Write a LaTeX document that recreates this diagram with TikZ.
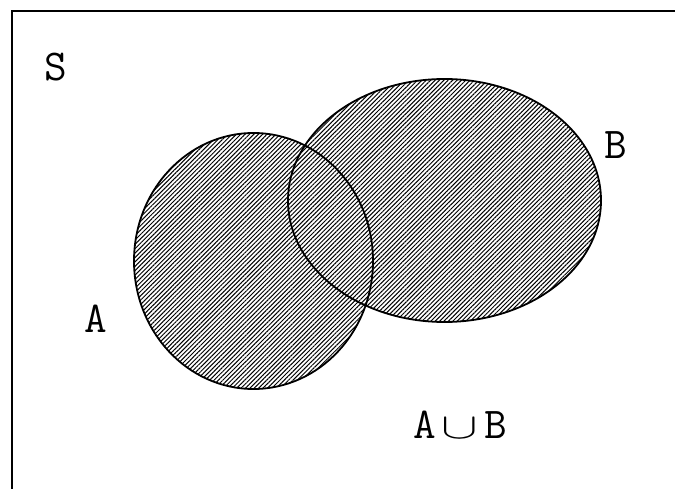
\documentclass[tikz,border=0pt]{standalone}
\usepackage{fontspec}
\usetikzlibrary{patterns.meta}
\tikzset{
  hatch/.style={pattern={Lines[angle=45,distance=3.1pt,line width=1.0pt]}},
  outline/.style={line width=1.8pt},
  lbl/.style={inner sep=0pt,font=\ttfamily\fontsize{44}{46}\selectfont}
}
\begin{document}
\begin{tikzpicture}[x=1pt,y=-1pt]
\useasboundingbox (0,0) rectangle (675,489);
% frame (right and bottom cut off)
\draw[line width=2pt] (676,11) -- (12,11) -- (12,490);
% union fill, hatched once
\fill[hatch] (253.5,261) ellipse [x radius=119.5,y radius=128]
             (444.5,200.5) ellipse [x radius=156.5,y radius=121.5];
% outlines
\draw[outline] (253.5,261) ellipse [x radius=119.5,y radius=128];
\draw[outline] (444.5,200.5) ellipse [x radius=156.5,y radius=121.5];
% labels
\node[lbl] (S) at (56,67) {S};
\node[lbl] (B) at (616,145) {B};
\node[lbl] (A) at (96,319) {A};
\node[lbl] (AB) at (460,425) {A\hspace{6pt}\scalebox{2.2}[1.45]{$\cup$}\hspace{6pt}B};
\end{tikzpicture}
\end{document}
